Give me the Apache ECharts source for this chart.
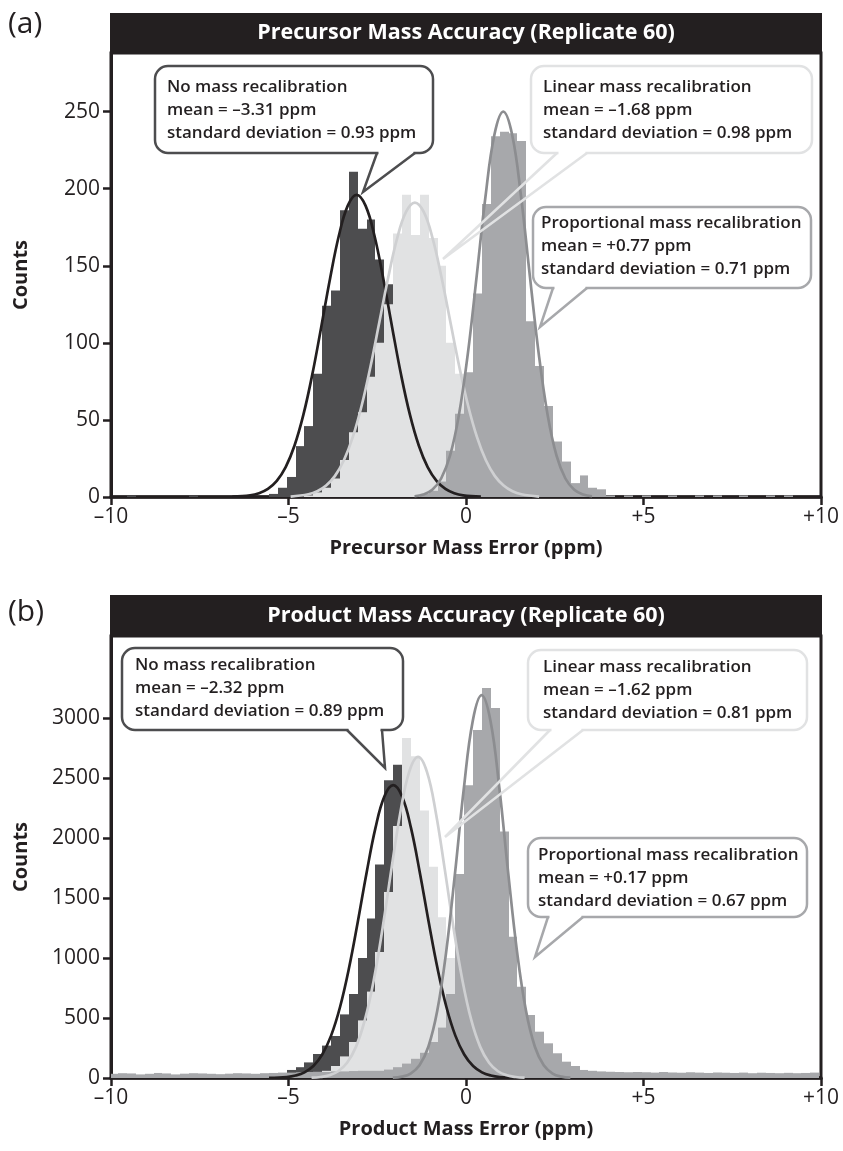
<!DOCTYPE html>
<html>
<head>
<meta charset="utf-8">
<title>Mass Accuracy (Replicate 60)</title>
<script src="https://cdn.jsdelivr.net/npm/echarts@6.0.0/dist/echarts.min.js"></script>
<style>
html, body { margin: 0; padding: 0; background: #fff; }
#main { width: 843px; height: 1151px; }
</style>
</head>
<body>
<div id="main"></div>
<script>
// histogram bins: 80 bins of 0.25 ppm, first left edge at -10.05
const BIN_START = -10.05;
const BIN_WIDTH = 0.25;

// panel (a) precursor counts per bin
const A_NO = [
  0, 0, 1, 0, 0, 0, 0, 0, 0, 1,
  0, 0, 0, 0, 1, 0, 0, 0, 2, 6,
  13, 33, 46, 80, 124, 134, 186, 211, 174, 180,
  154, 138, 95, 60, 38, 20, 10, 5, 2, 1,
  0, 0, 0, 0, 0, 0, 0, 0, 0, 0,
  0, 0, 0, 0, 0, 0, 0, 0, 0, 0,
  0, 0, 0, 0, 0, 0, 0, 0, 0, 0,
  0, 0, 0, 0, 0, 0, 0, 0, 0, 0
];
const A_LIN = [
  0, 0, 0, 0, 0, 0, 0, 0, 0, 0,
  0, 0, 0, 0, 0, 0, 0, 0, 0, 0,
  0, 0, 1, 3, 6, 12, 24, 42, 55, 78,
  100, 125, 171, 196, 170, 196, 168, 150, 100, 80,
  45, 25, 12, 5, 2, 1, 0, 0, 0, 0,
  0, 0, 0, 0, 0, 0, 0, 0, 0, 0,
  0, 0, 0, 0, 0, 0, 0, 0, 0, 0,
  0, 0, 0, 0, 0, 0, 0, 0, 0, 0
];
const A_PROP = [
  0, 0, 0, 0, 0, 0, 0, 0, 0, 0,
  0, 0, 0, 0, 0, 0, 0, 0, 0, 0,
  0, 0, 0, 0, 0, 0, 0, 0, 0, 0,
  0, 0, 0, 0, 0, 2, 4, 10, 30, 54,
  81, 132, 190, 234, 237, 236, 231, 114, 85, 59,
  36, 23, 9, 14, 6, 5, 1, 0, 1, 0,
  1, 0, 0, 1, 0, 0, 1, 0, 1, 0,
  0, 1, 0, 0, 1, 0, 1, 0, 0, 0
];

// panel (b) product counts per bin
const B_NO = [
  0, 0, 0, 0, 0, 0, 0, 0, 0, 0,
  0, 0, 0, 0, 0, 0, 0, 0, 20, 30,
  67, 90, 130, 200, 270, 350, 530, 700, 1000, 1330,
  1780, 2480, 2610, 2000, 1500, 900, 500, 250, 100, 40,
  15, 5, 0, 0, 0, 0, 0, 0, 0, 0,
  0, 0, 0, 0, 0, 0, 0, 0, 0, 0,
  0, 0, 0, 0, 0, 0, 0, 0, 0, 0,
  0, 0, 0, 0, 0, 0, 0, 0, 0, 0
];
const B_LIN = [
  0, 0, 0, 0, 0, 0, 0, 0, 0, 0,
  0, 0, 0, 0, 0, 0, 0, 0, 0, 0,
  0, 5, 15, 30, 60, 100, 180, 300, 480, 720,
  1050, 1550, 2100, 2833, 2680, 2230, 1760, 1340, 1000, 700,
  450, 280, 160, 90, 50, 25, 12, 5, 0, 0,
  0, 0, 0, 0, 0, 0, 0, 0, 0, 0,
  0, 0, 0, 0, 0, 0, 0, 0, 0, 0,
  0, 0, 0, 0, 0, 0, 0, 0, 0, 0
];
const B_PROP = [
  35, 40, 38, 30, 35, 42, 38, 30, 36, 40,
  38, 35, 32, 36, 40, 38, 35, 40, 42, 45,
  45, 48, 50, 52, 50, 55, 55, 58, 60, 60,
  60, 70, 90, 120, 160, 210, 300, 420, 700, 1700,
  2440, 2900, 3250, 3083, 2053, 1178, 761, 525, 386, 289,
  206, 136, 100, 67, 60, 55, 52, 50, 48, 50,
  48, 45, 50, 46, 44, 48, 45, 42, 46, 44,
  42, 45, 40, 44, 42, 40, 43, 40, 42, 45
];

// fitted curves as [ppm, counts]
const A_NO_FIT = [[-6.58,0.2],[-6.08,1.1],[-5.83,2.5],[-5.58,5.3],[-5.33,10.5],[-5.08,19.4],[-4.83,33.4],[-4.58,53.4],[-4.33,79.4],[-4.08,110],[-3.83,141.6],[-3.58,169.6],[-3.33,189],[-3.08,196],[-2.83,189],[-2.58,169.6],[-2.33,141.6],[-2.08,110],[-1.83,79.4],[-1.58,53.4],[-1.33,33.4],[-1.08,19.4],[-0.83,10.5],[-0.58,5.3],[-0.33,2.5],[-0.08,1.1],[0.42,0.2]];
const A_LIN_FIT = [[-4.94,0.3],[-4.44,1.8],[-4.19,3.7],[-3.94,7.4],[-3.69,13.7],[-3.44,23.8],[-3.19,38.8],[-2.94,59.2],[-2.69,84.7],[-2.44,113.5],[-2.19,142.5],[-1.94,167.7],[-1.69,184.9],[-1.44,191],[-1.19,184.9],[-0.94,167.7],[-0.69,142.5],[-0.44,113.5],[-0.19,84.7],[0.06,59.2],[0.31,38.8],[0.56,23.8],[0.81,13.7],[1.06,7.4],[1.31,3.7],[1.56,1.8],[2.06,0.3]];
const A_PROP_FIT = [[-1.45,0.5],[-1.2,1.6],[-0.95,4.7],[-0.7,12],[-0.45,26.8],[-0.2,53.1],[0.05,92.7],[0.3,143.1],[0.55,195.1],[0.8,235],[1.05,250],[1.3,235],[1.55,195.1],[1.8,143.1],[2.05,92.7],[2.3,53.1],[2.55,26.8],[2.8,12],[3.05,4.7],[3.3,1.6],[3.55,0.5]];
const B_NO_FIT = [[-5.55,1.1],[-5.05,8.3],[-4.8,20.6],[-4.55,47.1],[-4.3,99.8],[-4.05,195.4],[-3.8,353.1],[-3.55,589.5],[-3.3,910.1],[-3.05,1298.1],[-2.8,1710.7],[-2.55,2083.8],[-2.3,2345.6],[-2.05,2440],[-1.8,2345.6],[-1.55,2083.8],[-1.3,1710.7],[-1.05,1298.1],[-0.8,910.1],[-0.55,589.5],[-0.3,353.1],[-0.05,195.4],[0.2,99.8],[0.45,47.1],[0.7,20.6],[0.95,8.3],[1.45,1.1]];
const B_LIN_FIT = [[-4.35,2.8],[-4.1,8.4],[-3.85,22.9],[-3.6,56.4],[-3.35,126.8],[-3.1,259.2],[-2.85,481.5],[-2.6,813.2],[-2.35,1248.4],[-2.1,1742.5],[-1.85,2210.9],[-1.6,2550.6],[-1.35,2675],[-1.1,2550.6],[-0.85,2210.9],[-0.6,1742.5],[-0.35,1248.4],[-0.1,813.2],[0.15,481.5],[0.4,259.2],[0.65,126.8],[0.9,56.4],[1.15,22.9],[1.4,8.4],[1.65,2.8]];
const B_PROP_FIT = [[-2.06,3],[-1.81,11.4],[-1.56,37],[-1.31,105.3],[-1.06,260.3],[-0.81,559.5],[-0.56,1047.3],[-0.31,1704.7],[-0.06,2414.5],[0.19,2975.6],[0.44,3190],[0.69,2975.6],[0.94,2414.5],[1.19,1704.7],[1.44,1047.3],[1.69,559.5],[1.94,260.3],[2.19,105.3],[2.44,37],[2.69,11.4],[2.94,3]];

// tick labels
const A_TICKS = [0, 50, 100, 150, 200, 250];
const B_TICKS = [0, 500, 1000, 1500, 2000, 2500, 3000];

const INK = '#231f20';
const FONT = '"Open Sans", "DejaVu Sans", sans-serif';
const C_NO = '#4d4d4f', C_LIN = '#e1e2e3', C_PROP = '#a7a8ab';
const L_NO = '#231f20', L_LIN = '#cfd0d2', L_PROP = '#8c8d90';

const fmtX = v => v < 0 ? '\u2013' + Math.abs(v) : (v > 0 ? '+' + v : '0');

function histSeries(counts, color, idx) {
  const data = [];
  counts.forEach((c, i) => {
    if (c > 0) data.push([BIN_START + i * BIN_WIDTH, BIN_START + (i + 1) * BIN_WIDTH, c]);
  });
  return {
    type: 'custom', xAxisIndex: idx, yAxisIndex: idx, clip: true, silent: true, z: 2,
    encode: { x: [0, 1], y: 2 },
    renderItem: function (params, api) {
      const a = api.coord([api.value(0), api.value(2)]);
      const b = api.coord([api.value(1), 0]);
      const x0 = Math.round(a[0]), x1 = Math.round(b[0]);
      return { type: 'rect', shape: { x: x0, y: a[1], width: x1 - x0, height: b[1] - a[1] }, style: { fill: color } };
    },
    data: data
  };
}

function fitSeries(points, color, idx) {
  return {
    type: 'line', xAxisIndex: idx, yAxisIndex: idx, data: points, smooth: 0.4,
    showSymbol: false, symbol: 'none', silent: true, clip: true, z: 3,
    lineStyle: { color: color, width: 2.7 }
  };
}

function xAxisFor(idx, name) {
  return {
    type: 'value', gridIndex: idx, min: -10, max: 10, interval: 5,
    name: name, nameLocation: 'middle', nameGap: 41,
    nameTextStyle: { color: INK, fontFamily: FONT, fontWeight: 'bold', fontSize: 20 },
    axisLine: { onZero: false, lineStyle: { color: INK, width: 3.5 } },
    axisTick: { length: 8, lineStyle: { color: INK, width: 2.5 } },
    axisLabel: { color: INK, fontFamily: FONT, fontSize: 21, margin: 10, formatter: fmtX },
    splitLine: { show: false }
  };
}

function yAxisFor(idx, max, ticks) {
  return {
    type: 'value', gridIndex: idx, min: 0, max: max,
    name: 'Counts', nameLocation: 'middle', nameGap: 80, nameRotate: 90,
    nameTextStyle: { color: INK, fontFamily: FONT, fontWeight: 'bold', fontSize: 20 },
    axisLine: { show: true, onZero: false, lineStyle: { color: INK, width: 3 } },
    axisTick: { show: true, length: 8, customValues: ticks, lineStyle: { color: INK, width: 2.5 } },
    axisLabel: { color: INK, fontFamily: FONT, fontSize: 21, margin: 11, customValues: ticks, formatter: v => String(v) },
    splitLine: { show: false }
  };
}

function titleBar(y, h, text) {
  return [
    { type: 'rect', z: 100, shape: { x: 110, y: y, width: 712, height: h }, style: { fill: INK } },
    { type: 'text', z: 101, x: 466, y: y + h / 2,
      style: { text: text, fill: '#fff', fontFamily: FONT, fontWeight: 'bold', fontSize: 21.5, align: 'center', verticalAlign: 'middle' } }
  ];
}

function callout(box, tail, stroke, lines, tx, ty) {
  const [x, y, w, h] = box;
  return [
    { type: 'rect', z: 100, shape: { x: x, y: y, width: w, height: h, r: 13 }, style: { fill: '#fff', stroke: stroke, lineWidth: 2.5 } },
    { type: 'line', z: 101, shape: { x1: tail[0][0] + 1.5, y1: tail[0][1], x2: tail[2][0] - 1.5, y2: tail[2][1] }, style: { stroke: '#fff', lineWidth: 4 } },
    { type: 'polyline', z: 102, shape: { points: tail }, style: { stroke: stroke, lineWidth: 2.5, fill: null, lineJoin: 'miter' } },
    { type: 'text', z: 103, x: tx, y: ty,
      style: { text: lines.join('\n'), fill: INK, fontFamily: FONT, fontWeight: 600, fontSize: 17, lineHeight: 23, verticalAlign: 'top' } }
  ];
}

const graphics = [].concat(
  [{ type: 'text', z: 100, x: 8, y: 24, style: { text: '(a)', fill: INK, fontFamily: FONT, fontSize: 30, verticalAlign: 'middle' } },
   { type: 'text', z: 100, x: 8, y: 612, style: { text: '(b)', fill: INK, fontFamily: FONT, fontSize: 30, verticalAlign: 'middle' } }],
  titleBar(13, 40, 'Precursor Mass Accuracy (Replicate 60)'),
  titleBar(595, 41, 'Product Mass Accuracy (Replicate 60)'),
  callout([155, 66, 278, 87], [[377, 153], [363, 192], [415, 153]], '#4d4d4f',
    ['No mass recalibration', 'mean = \u20133.31 ppm', 'standard deviation = 0.93 ppm'], 167, 75.5),
  callout([531, 66, 281, 87], [[557, 153], [443, 259], [587, 153]], '#e1e2e3',
    ['Linear mass recalibration', 'mean = \u20131.68 ppm', 'standard deviation = 0.98 ppm'], 543, 75.5),
  callout([533, 207, 278, 81], [[553, 288], [540, 327], [587, 288]], '#a7a8ab',
    ['Proportional mass recalibration', 'mean = +0.77 ppm', 'standard deviation = 0.71 ppm'], 541, 211.5),
  callout([122, 648, 281, 82], [[347, 730], [385, 768], [382, 730]], '#4d4d4f',
    ['No mass recalibration', 'mean = \u20132.32 ppm', 'standard deviation = 0.89 ppm'], 135, 653.5),
  callout([528, 650, 279, 80], [[550, 730], [445, 837], [583, 730]], '#e1e2e3',
    ['Linear mass recalibration', 'mean = \u20131.62 ppm', 'standard deviation = 0.81 ppm'], 543, 655.5),
  callout([528, 838, 279, 79], [[548, 917], [535, 957], [583, 917]], '#a7a8ab',
    ['Proportional mass recalibration', 'mean = +0.17 ppm', 'standard deviation = 0.67 ppm'], 538, 843.5)
);

const chart = echarts.init(document.getElementById('main'), null, { renderer: 'canvas' });
chart.setOption({
  animation: false,
  backgroundColor: '#fff',
  grid: [
    { left: 111, right: 22, top: 53, height: 444, show: true, borderColor: INK, borderWidth: 3 },
    { left: 111, right: 22, top: 636, height: 442, show: true, borderColor: INK, borderWidth: 3 }
  ],
  xAxis: [xAxisFor(0, 'Precursor Mass Error (ppm)'), xAxisFor(1, 'Product Mass Error (ppm)')],
  yAxis: [yAxisFor(0, 288, A_TICKS), yAxisFor(1, 3683, B_TICKS)],
  series: [
    histSeries(A_NO, C_NO, 0), histSeries(A_LIN, C_LIN, 0), histSeries(A_PROP, C_PROP, 0),
    fitSeries(A_NO_FIT, L_NO, 0), fitSeries(A_LIN_FIT, L_LIN, 0), fitSeries(A_PROP_FIT, L_PROP, 0),
    histSeries(B_NO, C_NO, 1), histSeries(B_LIN, C_LIN, 1), histSeries(B_PROP, C_PROP, 1),
    fitSeries(B_NO_FIT, L_NO, 1), fitSeries(B_LIN_FIT, L_LIN, 1), fitSeries(B_PROP_FIT, L_PROP, 1)
  ],
  graphic: graphics
});
</script>
</body>
</html>
